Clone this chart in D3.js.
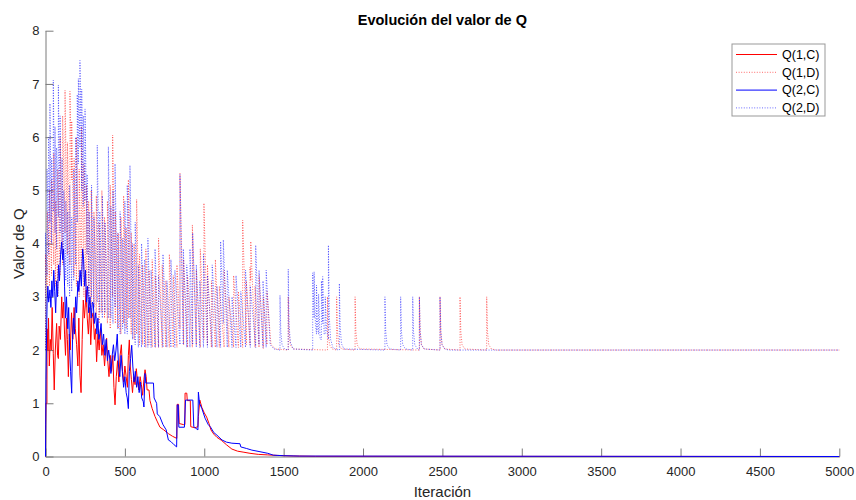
<!DOCTYPE html>
<html>
<head>
<meta charset="utf-8">
<script src="https://cdn.jsdelivr.net/npm/d3@7"></script>
<style>
  body { margin: 0; background: #fff; }
  svg { display: block; font-family: "Liberation Sans", Arial, sans-serif; }
</style>
</head>
<body>
<svg id="chart" width="856" height="500"></svg>
<script>
// values: [iteración, Q]  (3 entries = vertical jump [it, before, after])
const xTicks = [0, 500, 1000, 1500, 2000, 2500, 3000, 3500, 4000, 4500, 5000];
const yTicks = [0, 1, 2, 3, 4, 5, 6, 7, 8];
const seriesNames = ['Q(1,C)', 'Q(1,D)', 'Q(2,C)', 'Q(2,D)'];

const q1c = [[0,0],[1,0.6],[3,1.0],[9,1.0],[10,2.4],[15,2.0],[19,2.6],[24,1.7],[30,2.2],[36,2.0],[42,2.8],[49,1.94],[55,1.25],[62,2.0],[70,2.5],[76,1.9],[81,1.84],[86,2.45],[94,2.2],[102,3.0],[108,2.6],[114,2.9],[120,2.3],[126,1.9],[132,2.6],[138,2.2],[144,1.5],[150,2.3],[156,2.0],[164,2.7],[172,2.2],[180,2.8],[188,2.4],[196,2.1],[204,1.7],[210,2.6],[217,1.53],[224,1.2],[231,2.2],[238,2.94],[245,2.6],[252,2.9],[256,3.13],[263,2.6],[270,2.3],[278,2.8],[285,2.1],[292,2.6],[300,2.7],[308,2.2],[315,2.4],[322,1.78],[330,2.3],[338,2.0],[346,2.4],[355,1.9],[363,2.1],[372,1.7],[385,2.22],[392,1.8],[400,1.5],[408,1.9],[416,1.6],[424,1.9],[431,1.3],[438,0.97],[446,1.5],[454,1.8],[462,1.4],[470,1.9],[478,2.1],[485,1.6],[492,1.4],[500,1.7],[508,1.5],[516,1.3],[522,1.9],[528,2.19],[534,1.7],[541,1.45],[548,1.2],[556,1.5],[564,1.35],[572,1.65],[580,1.4],[588,1.25],[596,1.5],[604,1.35],[612,1.15],[620,1.45],[627,1.63],[634,1.5],[640,1.25],[652,1.25],[658,1.05],[672,0.9],[690,0.75],[705,0.65],[721,0.55],[745,0.5],[774,0.43],[800,0.38],[827,0.34],[829,0.98],[838,0.98],[842,0.62],[868,0.6],[878,0.6],[879,1.19],[890,1.19],[893,1.05],[912,1.05],[915,0.56],[940,0.54],[960,0.56],[963,0.75],[972,1.06],[985,0.92],[1000,0.82],[1015,0.74],[1030,0.62],[1042,0.5],[1060,0.42],[1080,0.36],[1110,0.3],[1140,0.22],[1174,0.14],[1210,0.1],[1250,0.08],[1288,0.06],[1340,0.04],[1400,0.03],[1460,0.02],[1560,0.01],[1700,0.004],[5000,0]];

const q1d = [[0,2.0,3.8],[12,3.0,4.6],[25,3.2,5.0],[38,3.4,5.2],[52,3.6,5.7],[64,3.2,4.8],[78,3.0,5.4],[92,3.4,6.0],[108,3.6,6.4],[123,4.2,6.88],[138,3.8,5.9],[154,3.6,6.86],[165,5.2,6.3],[180,3.4,5.6],[195,3.2,6.0],[212,3.0,5.4],[227,3.3,6.2],[242,3.0,5.5],[258,2.8,5.1],[272,2.9,4.8],[288,2.7,5.0],[305,2.8,4.6],[320,2.6,4.9],[338,2.5,4.4],[355,2.7,5.0],[372,2.6,4.5],[390,2.5,4.8],[408,2.4,5.1],[423,3.0,6.04],[440,2.5,4.6],[458,2.4,4.2],[475,2.3,4.5],[492,2.5,4.9],[508,2.4,4.3],[522,2.6,5.2],[540,2.3,4.2],[558,2.2,4.0],[574,2.3,4.83],[592,2.1,3.8],[612,2.1,3.6],[632,2.05,3.9],[652,2.1,3.5],[672,2.05,3.7],[692,2.05,3.4],[712,2.05,4.1],[735,2.05,3.6],[758,2.05,3.3],[780,2.05,3.8],[805,2.05,3.4],[828,2.05,3.6],[847,2.4,5.32],[870,2.1,3.7],[895,2.05,3.4],[925,2.05,4.35],[950,2.1,3.5],[975,2.05,3.9],[998,2.2,4.76],[1020,2.1,3.6],[1045,2.05,3.3],[1070,2.05,3.7],[1095,2.05,3.2],[1125,2.05,3.5],[1155,2.05,3.0],[1185,2.05,3.4],[1215,2.05,3.1],[1242,2.05,4.44],[1265,2.1,3.3],[1288,2.1,3.56],[1293,3.3,4.04],[1320,2.05,3.2],[1345,2.05,3.4],[1372,2.03,3.0],[1395,2.1,3.1],[1420,2.1],[1450,2.02],[1529,2.0,3.0],[1534,2.35],[1542,2.1],[1560,2.02],[1776,2.0,3.0],[1781,2.35],[1789,2.1],[1805,2.02],[1834,2.0,3.0],[1839,2.35],[1847,2.1],[1865,2.02],[1950,2.0,3.0],[1955,2.35],[1963,2.1],[1980,2.02],[2355,2.0,3.0],[2360,2.35],[2368,2.1],[2385,2.02],[2485,2.0,3.0],[2490,2.35],[2498,2.1],[2515,2.02],[2611,2.0,3.0],[2616,2.35],[2624,2.1],[2641,2.02],[2779,2.0,3.0],[2784,2.35],[2792,2.1],[2809,2.02],[2840,2.0],[5000,2.0]];

const q2c = [[0,0],[3,1.44],[6,2.1],[10,2.9],[15,3.2],[20,2.9],[28,3.13],[34,2.8],[40,3.3],[46,3.0],[52,3.5],[58,3.1],[64,2.7],[70,3.3],[76,3.0],[82,3.6],[88,3.3],[95,3.8],[102,4.03],[108,3.7],[114,3.9],[120,3.2],[126,2.6],[132,3.0],[140,2.4],[146,2.8],[152,2.0],[158,1.6],[165,1.19],[170,2.2],[176,2.6],[182,2.3],[190,3.0],[196,2.7],[204,3.3],[210,3.1],[218,3.5],[226,3.2],[234,3.9],[240,3.7],[246,3.2],[252,3.5],[258,2.9],[265,3.2],[272,2.7],[280,3.0],[288,2.6],[295,2.9],[301,2.87],[308,2.5],[316,2.7],[324,2.3],[330,2.6],[336,2.2],[343,2.31],[350,2.5],[358,2.1],[366,2.3],[374,1.9],[382,2.2],[390,1.8],[398,2.0],[406,1.81],[412,1.56],[420,1.9],[428,2.1],[436,1.8],[444,2.0],[452,2.3],[460,1.7],[468,1.5],[476,1.9],[484,1.6],[492,1.3],[500,1.5],[508,1.2],[515,1.1],[522,0.9],[528,1.6],[536,1.84],[543,2.09],[550,1.7],[558,1.4],[566,1.6],[574,1.3],[582,1.5],[590,1.2],[598,1.4],[606,1.1],[616,1.03],[620,0.93],[627,1.56],[632,1.38],[680,1.38],[684,1.1],[700,1.0],[704,0.8],[720,0.75],[740,0.6],[760,0.5],[774,0.31],[790,0.28],[810,0.22],[826,0.18],[830,0.97],[836,0.97],[840,0.55],[875,0.55],[882,1.06],[928,1.06],[934,0.56],[960,0.5],[963,1.21],[970,1.0],[985,0.9],[1005,0.72],[1025,0.6],[1040,0.55],[1060,0.45],[1080,0.4],[1112,0.31],[1140,0.27],[1174,0.25],[1225,0.24],[1230,0.18],[1267,0.15],[1300,0.12],[1351,0.09],[1400,0.06],[1435,0.025],[1500,0.015],[1600,0.008],[5000,0]];

const q2d = [[0,2.0,4.2],[10,3.4,5.4],[20,3.8,6.0],[28,4.4,6.63],[38,4.0,5.6],[49,4.6,7.07],[60,4.2,6.2],[70,3.9,5.8],[81,4.5,6.98],[92,4.2,6.4],[104,3.8,5.6],[115,3.6,5.0],[128,3.3,4.8],[140,3.2,4.6],[152,3.0,5.1],[165,3.1,4.5],[178,3.3,5.4],[190,3.6,6.0],[200,4.4,6.8],[207,5.5,7.1],[217,5.8,7.44],[228,5.0,6.9],[238,4.7,6.4],[249,4.8,6.53],[262,3.8,5.3],[275,3.0,4.6],[290,3.0,5.1],[305,2.8,4.5],[326,2.9,5.85],[342,2.7,4.6],[358,2.6,4.9],[375,2.7,4.4],[396,2.6,5.82],[412,2.6,4.7],[425,2.5,5.0],[438,2.8,5.5],[455,2.4,4.2],[470,2.3,4.6],[486,2.4,4.1],[500,2.3,4.8],[515,2.3,5.1],[532,2.6,5.47],[548,2.2,4.0],[565,2.1,4.4],[585,2.05,3.6],[605,2.05,4.0],[625,2.05,3.7],[645,2.05,4.1],[665,2.05,3.5],[690,2.05,3.9],[712,2.05,3.4],[740,2.05,3.8],[765,2.05,3.3],[790,2.05,3.7],[815,2.05,3.5],[847,2.1,5.3],[868,2.1,3.9],[890,2.05,3.6],[910,2.05,3.9],[927,2.1,4.2],[950,2.05,3.6],[972,2.05,3.3],[995,2.05,3.8],[1020,2.05,3.4],[1050,2.05,3.6],[1080,2.05,3.2],[1103,2.05,4.04],[1120,2.5,4.07],[1145,2.05,3.5],[1175,2.05,3.0],[1200,2.05,3.4],[1230,2.05,3.1],[1260,2.05,3.5],[1290,2.05,3.2],[1324,2.05,3.97],[1345,2.1,3.5],[1370,2.05,3.3],[1390,2.05,3.5],[1415,2.1],[1440,2.02],[1477,2.0,3.03],[1482,2.35],[1490,2.1],[1505,2.02],[1529,2.0,3.52],[1534,2.5],[1542,2.15],[1560,2.02],[1683,2.0,3.45],[1692,2.6,3.47],[1700,2.5],[1707,2.3,3.22],[1714,2.4],[1720,2.3,3.05],[1730,2.2],[1738,2.2,3.3],[1746,2.5,3.38],[1755,2.3],[1762,2.3,3.0],[1770,2.4],[1782,2.2,3.97],[1788,2.6],[1796,2.2],[1810,2.05],[1830,2.01],[1851,2.0,3.25],[1856,2.45],[1864,2.12],[1880,2.02],[2138,2.0,3.0],[2143,2.35],[2151,2.1],[2168,2.02],[2237,2.0,3.0],[2242,2.35],[2250,2.1],[2267,2.02],[2313,2.0,3.0],[2318,2.35],[2326,2.1],[2343,2.02],[2355,2.0,3.0],[2360,2.35],[2368,2.1],[2385,2.02],[2485,2.0,3.0],[2490,2.35],[2498,2.1],[2515,2.02],[2540,2.0],[5000,2.0]];

const svg = d3.select('#chart');

const x = d3.scaleLinear().domain([0, 5000]).range([45.5, 839.3]);
const y = d3.scaleLinear().domain([0, 8]).range([456.5, 30.7]);

const expand = arr => arr.flatMap(d => d.length === 3 ? [[d[0], d[1]], [d[0], d[2]]] : [d]);

// axes (MATLAB-ish: no box, ticks inward)
const gx = svg.append('g')
  .attr('transform', 'translate(0,' + y(0) + ')')
  .call(d3.axisBottom(x).tickValues(xTicks).tickFormat(d3.format('d'))
    .tickSizeInner(-8).tickSizeOuter(0).tickPadding(10));
const gy = svg.append('g')
  .attr('transform', 'translate(' + x(0) + ',0)')
  .call(d3.axisLeft(y).tickValues(yTicks).tickFormat(d3.format('d'))
    .tickSizeInner(-8).tickSizeOuter(0).tickPadding(6));

[gx, gy].forEach(g => {
  g.select('.domain').attr('stroke', '#7a7a7a');
  g.selectAll('.tick line').attr('stroke', '#7a7a7a');
  g.selectAll('.tick text')
    .attr('fill', '#262626')
    .style('font-size', '13px')
    .style('font-family', '"Liberation Sans", Arial, sans-serif');
});

const line = d3.line().x(d => x(d[0])).y(d => y(d[1]));

const series = [
  { name: seriesNames[0], data: q1c, color: '#ff0000', dotted: false },
  { name: seriesNames[1], data: q1d, color: '#ff0000', dotted: true },
  { name: seriesNames[2], data: q2c, color: '#0000ff', dotted: false },
  { name: seriesNames[3], data: q2d, color: '#0000ff', dotted: true }
];

const styleLine = (sel, s) => {
  sel.attr('fill', 'none')
    .attr('stroke', s.color)
    .attr('stroke-width', s.dotted ? 0.9 : 1)
    .attr('stroke-opacity', s.dotted ? 0.65 : 1)
    .attr('stroke-dasharray', s.dotted ? '1,1.6' : null)
    .attr('stroke-linejoin', 'round');
};

series.forEach(s => {
  svg.append('path')
    .datum(expand(s.data))
    .attr('d', line)
    .call(styleLine, s);
});

// title and labels
svg.append('text')
  .attr('x', (x(0) + x(5000)) / 2).attr('y', 25)
  .attr('text-anchor', 'middle')
  .attr('fill', '#000')
  .style('font-size', '14.5px').style('font-weight', 'bold')
  .text('Evolución del valor de Q');

svg.append('text')
  .attr('x', (x(0) + x(5000)) / 2).attr('y', 497)
  .attr('text-anchor', 'middle')
  .attr('fill', '#262626')
  .style('font-size', '15px')
  .text('Iteración');

svg.append('text')
  .attr('transform', 'translate(24,' + y(4) + ') rotate(-90)')
  .attr('text-anchor', 'middle')
  .attr('fill', '#262626')
  .style('font-size', '15px')
  .text('Valor de Q');

// legend
const legend = svg.append('g').attr('transform', 'translate(732,44)');
legend.append('rect')
  .attr('width', 93).attr('height', 72)
  .attr('fill', '#fff').attr('stroke', '#999').attr('stroke-width', 1);

series.forEach((s, i) => {
  const ly = 10.5 + i * 17.8;
  legend.append('line')
    .attr('x1', 4).attr('x2', 45).attr('y1', ly).attr('y2', ly)
    .call(styleLine, s);
  legend.append('text')
    .attr('x', 50).attr('y', ly).attr('dy', '0.35em')
    .attr('fill', '#000')
    .style('font-size', '12.5px')
    .text(s.name);
});
</script>
</body>
</html>
